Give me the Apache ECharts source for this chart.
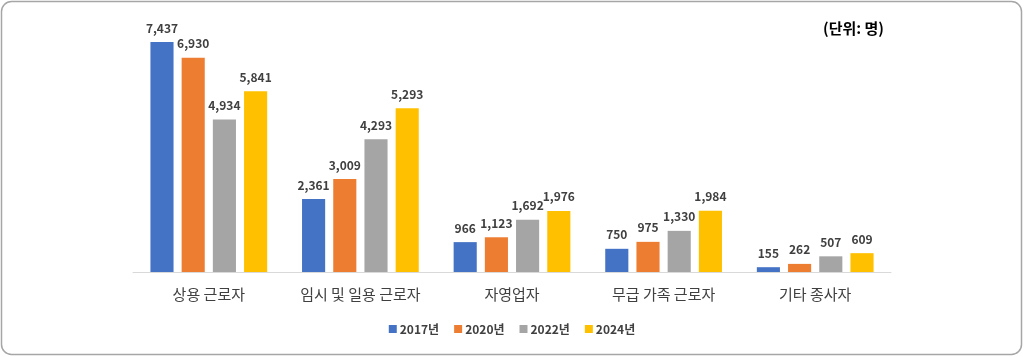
<!DOCTYPE html>
<html><head><meta charset="utf-8">
<script src="https://cdn.jsdelivr.net/npm/echarts@6/dist/echarts.min.js"></script>
<style>html,body{margin:0;padding:0;background:#fff}#c{width:1024px;height:357px}</style>
</head><body><div id="c"></div>
<script>
const categories = ['상용 근로자','임시 및 일용 근로자','자영업자','무급 가족 근로자','기타 종사자'];
const seriesNames = ['2017년','2020년','2022년','2024년'];
const v2017 = [7437, 2361, 966, 750, 155];
const v2020 = [6930, 3009, 1123, 975, 262];
const v2022 = [4934, 4293, 1692, 1330, 507];
const v2024 = [5841, 5293, 1976, 1984, 609];
const colors = ['#4472C4','#ED7D31','#A5A5A5','#FFC000'];
const font = '"Noto Sans CJK KR", "Noto Sans", sans-serif';
const chart = echarts.init(document.getElementById('c'));
const vals = [v2017, v2020, v2022, v2024];
chart.setOption({
  animation: false,
  textStyle: {fontFamily: font},
  graphic: [
    {type:'rect', shape:{x:1.5,y:1.5,width:1020,height:353,r:10}, style:{fill:'none',stroke:'#a6a6a6',lineWidth:1.5}, z:-1},
    {type:'text', left:823, top:21, style:{text:'(단위: 명)', font:'bold 15px ' + font, fill:'#000'}}
  ],
  legend: {
    bottom: 17, left: 'center', itemWidth: 8, itemHeight: 8, itemGap: 15, icon: 'rect',
    textStyle: {fontFamily: font, fontSize: 12, fontWeight: 'bold', color: '#404040', padding:[0,0,0,-2]},
    data: seriesNames
  },
  grid: {left: 133, right: 133, top: 24.6, bottom: 85},
  xAxis: {
    type: 'category', data: categories,
    axisLine: {lineStyle: {color: '#d9d9d9', width: 1}},
    axisTick: {show: false},
    axisLabel: {interval: 0, fontFamily: font, fontSize: 15, color: '#404040', margin: 15}
  },
  yAxis: {type: 'value', min: 0, max: 8000, show: false, splitLine: {show: false}},
  series: seriesNames.map((n, i) => ({
    name: n, type: 'bar', data: vals[i], barGap: '35%', barCategoryGap: '23%',
    itemStyle: {color: colors[i]},
    label: {show: true, position: 'top', distance: 8, fontFamily: font, fontSize: 12, fontWeight: 'bold', color: '#404040',
      formatter: p => p.value.toLocaleString('en-US')}
  }))
});
</script></body></html>
